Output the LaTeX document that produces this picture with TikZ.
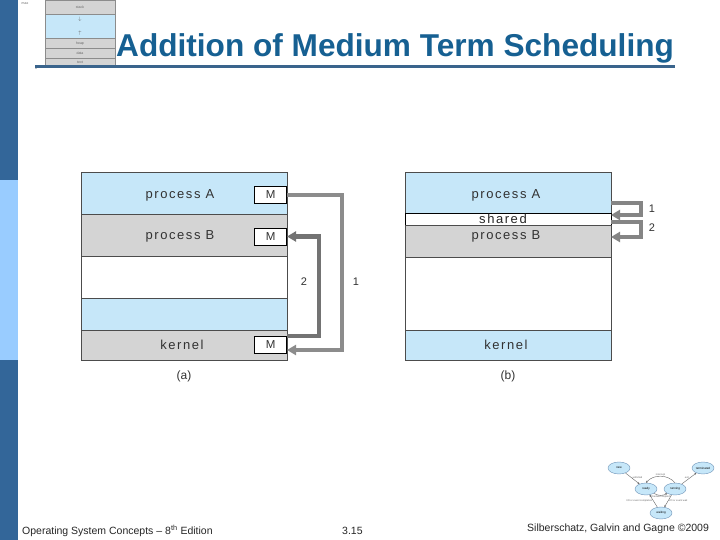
\documentclass[tikz,border=0pt]{standalone}
\usepackage{fontspec}
\setmainfont{Liberation Sans}
\newfontfamily\lblfont[LetterSpace=12]{Liberation Sans}
\usetikzlibrary{arrows.meta,shapes.geometric}
\definecolor{barDark}{RGB}{51,102,153}
\definecolor{barLight}{RGB}{153,204,255}
\definecolor{titleC}{RGB}{22,96,146}
\definecolor{lineC}{RGB}{58,100,140}
\definecolor{lblue}{RGB}{198,231,249}
\definecolor{lgray}{RGB}{212,212,212}
\definecolor{txtC}{RGB}{50,50,50}
\tikzset{
  rowbox/.style={draw=black!70, line width=0.6pt, anchor=north west, minimum width=206pt, inner sep=0pt, outer sep=0pt},
  lbl/.style={font=\lblfont\fontsize{13}{15}\selectfont, text=txtC, inner sep=0pt},
  mbox/.style={draw=black, line width=0.8pt, fill=white, minimum width=32pt, minimum height=17pt, inner sep=0pt, font=\fontsize{11.5}{13}\selectfont, text=txtC},
  tubeA/.style={line width=4.5pt, -{Triangle[length=9pt,width=10pt]}},
  numlbl/.style={font=\fontsize{11}{13}\selectfont, text=txtC, inner sep=0pt},
  foot/.style={font=\fontsize{10.5}{12}\selectfont, text=black!85, inner sep=0pt, anchor=base west},
  tinyl/.style={font=\fontsize{3.5}{4}\selectfont, text=black!60, inner sep=0pt},
  st/.style={ellipse, draw=barDark!70, fill=lblue, minimum width=22pt, minimum height=12pt, inner sep=0pt, font=\fontsize{3}{3.5}\selectfont},
  starr/.style={draw=black!60, line width=0.4pt, -{Stealth[length=2pt,width=2pt]}}
}
\begin{document}
\begin{tikzpicture}[x=1pt,y=-1pt]
\useasboundingbox[fill=white] (0,0) rectangle (720,540);
% left bar
\fill[barDark] (0,0) rectangle (18,180);
\fill[barLight] (0,180) rectangle (18,360);
\fill[barDark] (0,360) rectangle (18,540);

% top-left memory thumbnail
\fill[lgray] (45,0) rectangle (115,14);
\fill[lblue] (45,14) rectangle (115,38);
\fill[lgray] (45,38) rectangle (115,66);
\draw[black!45, line width=0.5pt] (45,0) rectangle (115,66);
\foreach \yy in {14,38,48,58} \draw[black!45, line width=0.5pt] (45,\yy) -- (115,\yy);
\node[tinyl] (tstack) at (80,7) {stack};
\node[tinyl] (tdown) at (80,19) {$\downarrow$};
\node[tinyl] (tup) at (80,33) {$\uparrow$};
\node[tinyl] (theap) at (80,43.5) {heap};
\node[tinyl] (tdata) at (80,53.5) {data};
\node[tinyl] (ttext) at (80,62.5) {text};
\node[tinyl] (tmax) at (25,4) {max};
\node[tinyl] (tzero) at (36,68) {0};

% title
\node[anchor=base west, text=titleC, font=\bfseries\fontsize{31.6}{36}\selectfont, inner sep=0pt] (title) at (116,57) {Addition of Medium Term Scheduling};
\draw[lineC, line width=2.6pt] (35,66.5) -- (675,66.5);

% ---------- diagram (a)
\node[rowbox, fill=lblue, minimum height=42pt] (aA) at (81,172) {};
\node[rowbox, fill=lgray, minimum height=42pt] (aB) at (81,214) {};
\node[rowbox, fill=white, minimum height=42pt] (aW) at (81,256) {};
\node[rowbox, fill=lblue, minimum height=32pt] (aL) at (81,298) {};
\node[rowbox, fill=lgray, minimum height=30pt] (aK) at (81,330) {};
\node[lbl] (aAt) at (180,195) {process A};
\node[lbl] (aBt) at (180,236.5) {process B};
\node[lbl] (aKt) at (182,345) {kernel};
\node[mbox, anchor=east] (mA) at (287,195) {M};
\node[mbox, anchor=east] (mB) at (287,236.5) {M};
\node[mbox, anchor=east] (mK) at (287,345) {M};
\draw[tubeA, draw=black!45] (mA.east) -- ++(55,0) |- ([yshift=-5pt]mK.east);
\draw[tubeA, draw=black!55] ([yshift=9pt]mK.east) -- ++(32,0) |- (mB.east);
\node[numlbl] (n2a) at (304,282) {2};
\node[numlbl] (n1a) at (356,282) {1};
\node[font=\fontsize{12}{14}\selectfont, text=txtC] (capa) at (184,376) {(a)};

% ---------- diagram (b)
\node[rowbox, fill=lblue, minimum height=41pt] (bA) at (405,172) {};
\node[rowbox, fill=white, minimum height=12pt, draw=black, line width=0.9pt] (bS) at (405,213) {};
\node[rowbox, fill=lgray, minimum height=32pt] (bB) at (405,225) {};
\node[rowbox, fill=white, minimum height=73pt] (bW) at (405,257) {};
\node[rowbox, fill=lblue, minimum height=30pt] (bK) at (405,330) {};
\node[lbl] (bAt) at (506,195) {process A};
\node[lbl, text=black!85] (bSt) at (503,218.5) {shared};
\node[lbl] (bBt) at (506,236.5) {process B};
\node[lbl] (bKt) at (506,345) {kernel};
\draw[tubeA, draw=black!48] ([yshift=-10.5pt]bA.east) -- ++(30,0) |- ([yshift=4pt]bS.east);
\draw[tubeA, draw=black!48] ([yshift=-3pt]bS.east) -- ++(30,0) |- ([yshift=4pt]bB.east);
\node[numlbl] (n1b) at (652,209) {1};
\node[numlbl] (n2b) at (652,228) {2};
\node[font=\fontsize{12}{14}\selectfont, text=txtC] (capb) at (508,376) {(b)};

% ---------- small state diagram
\node[st] (snew) at (619,468) {new};
\node[st] (sterm) at (703,468) {terminated};
\node[st] (sready) at (646,489) {ready};
\node[st] (srun) at (675,489) {running};
\node[st] (swait) at (661,513) {waiting};
\draw[starr] (snew) -- node[tinyl, font=\fontsize{2.5}{3}\selectfont, above right=0pt] {admitted} (sready);
\draw[starr] (srun) -- node[tinyl, font=\fontsize{2.5}{3}\selectfont, above left=0pt] {exit} (sterm);
\draw[starr] (srun.north) to[bend right=50] node[tinyl, font=\fontsize{2.5}{3}\selectfont, above=0.5pt] {interrupt} (sready.north);
\draw[starr] (sready.south east) to[bend right=30] node[tinyl, font=\fontsize{2.5}{3}\selectfont, below=0.5pt] {scheduler dispatch} (srun.south west);
\draw[starr] (swait) -- node[tinyl, font=\fontsize{2.5}{3}\selectfont, left=1pt] {I/O or event completion} (sready);
\draw[starr] (srun) -- node[tinyl, font=\fontsize{2.5}{3}\selectfont, right=1pt] {I/O or event wait} (swait);

% ---------- footer
\node[foot] (f1) at (22,534) {Operating System Concepts -- 8\textsuperscript{th} Edition};
\node[foot] (f2) at (342,534) {3.15};
\node[foot] (f3) at (527,531) {Silberschatz, Galvin and Gagne \textcopyright 2009};
\end{tikzpicture}
\end{document}
